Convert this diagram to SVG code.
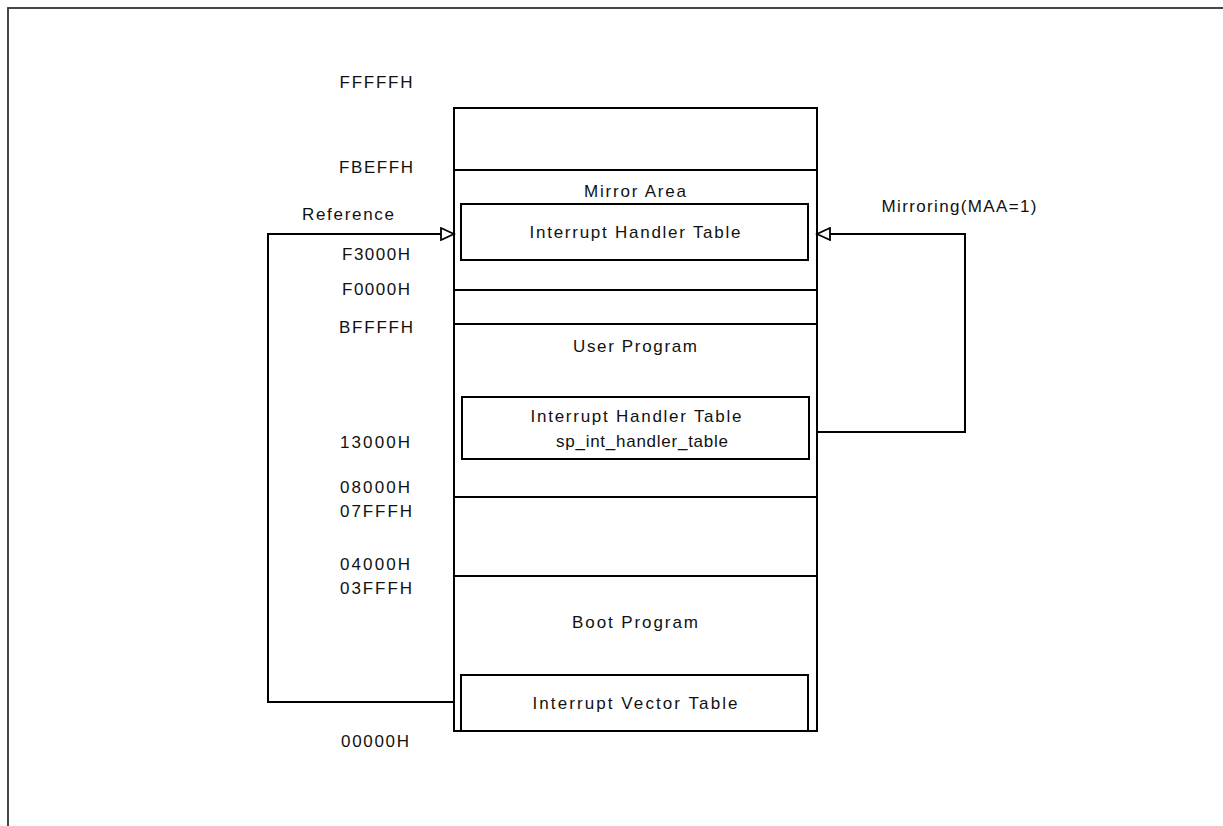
<svg xmlns="http://www.w3.org/2000/svg" width="1223" height="826" viewBox="0 0 1223 826">
<defs>
<style>
text{font-family:"Liberation Sans","Noto Sans",Arial,sans-serif;font-size:17px;fill:#111;}
.c{text-anchor:middle;}
.box{fill:#fff;stroke:#000;stroke-width:2;}
.ln{stroke:#000;stroke-width:2;fill:none;}
.conn{stroke:#000;stroke-width:2;fill:none;}
</style>
<marker id="tri" markerWidth="16" markerHeight="14" refX="14" refY="7" orient="auto" markerUnits="userSpaceOnUse">
<path d="M1,1 L14,7 L1,13 Z" fill="#fff" stroke="#000" stroke-width="1.8"/>
</marker>
</defs>
<rect width="1223" height="826" fill="#fff"/>
<rect x="8" y="8" width="1240" height="840" fill="none" stroke="#333" stroke-width="1.8"/>

<g id="memory-map">
<rect class="box" x="454" y="108" width="363" height="623"/>
<line class="ln" x1="454" y1="170" x2="817" y2="170"/>
<line class="ln" x1="454" y1="290" x2="817" y2="290"/>
<line class="ln" x1="454" y1="324" x2="817" y2="324"/>
<line class="ln" x1="454" y1="497" x2="817" y2="497"/>
<line class="ln" x1="454" y1="576" x2="817" y2="576"/>
<text class="c" x="635" y="197" textLength="102" lengthAdjust="spacing">Mirror Area</text>
<text class="c" x="635" y="352" textLength="124" lengthAdjust="spacing">User Program</text>
<text class="c" x="635" y="628" textLength="126" lengthAdjust="spacing">Boot Program</text>
</g>

<g id="mirror-handler-table">
<rect class="box" x="461" y="204" width="347" height="56"/>
<text class="c" x="635" y="238" textLength="211" lengthAdjust="spacing">Interrupt Handler Table</text>
</g>

<g id="user-handler-table">
<rect class="box" x="462" y="397" width="347" height="62"/>
<text class="c" x="636" y="422" textLength="211" lengthAdjust="spacing">Interrupt Handler Table</text>
<text class="c" x="642" y="447" textLength="172" lengthAdjust="spacing">sp_int_handler_table</text>
</g>

<g id="vector-table">
<rect class="box" x="461" y="675" width="347" height="56"/>
<text class="c" x="635" y="709" textLength="205" lengthAdjust="spacing">Interrupt Vector Table</text>
</g>

<g id="address-labels">
<text class="c" x="376" y="88" textLength="73" lengthAdjust="spacing">FFFFFH</text>
<text class="c" x="376" y="173" textLength="74" lengthAdjust="spacing">FBEFFH</text>
<text class="c" x="376" y="260" textLength="68" lengthAdjust="spacing">F3000H</text>
<text class="c" x="376" y="295" textLength="68" lengthAdjust="spacing">F0000H</text>
<text class="c" x="376" y="333" textLength="74" lengthAdjust="spacing">BFFFFH</text>
<text class="c" x="375" y="448" textLength="70" lengthAdjust="spacing">13000H</text>
<text class="c" x="375" y="493" textLength="70" lengthAdjust="spacing">08000H</text>
<text class="c" x="376" y="517" textLength="72" lengthAdjust="spacing">07FFFH</text>
<text class="c" x="375" y="570" textLength="70" lengthAdjust="spacing">04000H</text>
<text class="c" x="376" y="594" textLength="72" lengthAdjust="spacing">03FFFH</text>
<text class="c" x="375" y="747" textLength="68" lengthAdjust="spacing">00000H</text>
</g>

<g id="connectors">
<path class="conn" d="M454,702 H268 V234 H454" marker-end="url(#tri)"/>
<path class="conn" d="M817,432 H965 V234 H817" marker-end="url(#tri)"/>
<text class="c" x="348" y="220" textLength="92" lengthAdjust="spacing">Reference</text>
<text class="c" x="959" y="212" textLength="155" lengthAdjust="spacing">Mirroring(MAA=1)</text>
</g>
</svg>
